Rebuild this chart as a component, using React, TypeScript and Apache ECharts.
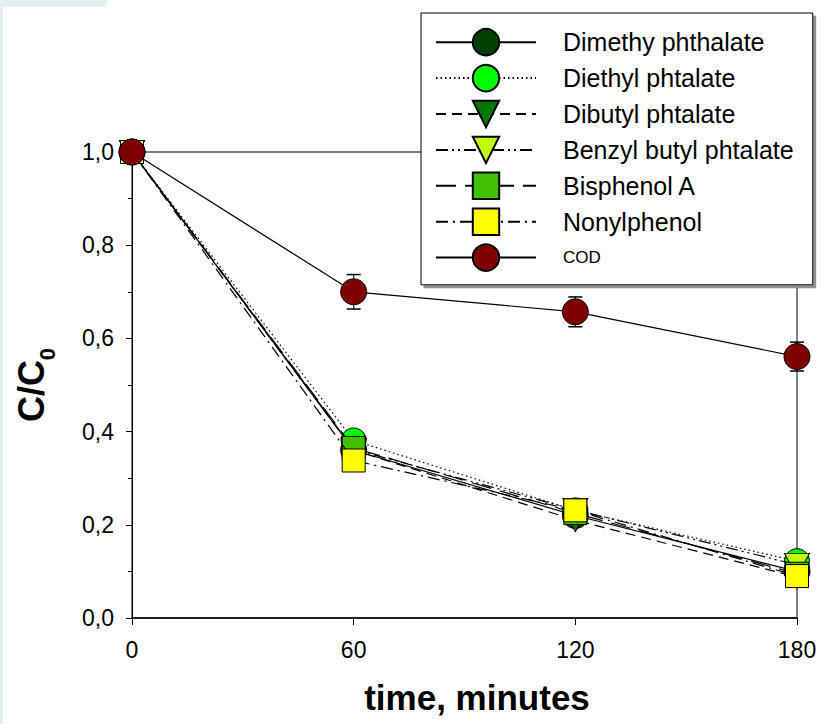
import React, { useEffect, useRef } from 'react';
import * as echarts from 'echarts';

const times = [0, 60, 120, 180];
const seriesNames = [
  'Dimethy phthalate',
  'Diethyl phtalate',
  'Dibutyl phtalate',
  'Benzyl butyl phtalate',
  'Bisphenol A',
  'Nonylphenol',
  'COD',
];
const dimethy = [1.0, 0.36, 0.22, 0.1];
const diethyl = [1.0, 0.381, 0.231, 0.122];
const dibutyl = [1.0, 0.36, 0.21, 0.088];
const benzyl = [1.0, 0.362, 0.232, 0.114];
const bisphenol = [1.0, 0.365, 0.225, 0.095];
const nonylphenol = [1.0, 0.338, 0.231, 0.09];
const cod = [1.0, 0.7, 0.657, 0.561];
const codErr = [0, 0.037, 0.032, 0.031];

const values = [dimethy, diethyl, dibutyl, benzyl, bisphenol, nonylphenol, cod];
const colors = ['#004000', '#00ff00', '#007800', '#c0ff00', '#40c000', '#ffff00', '#800000'];
const symbols = ['circle', 'circle', 'triangle', 'triangle', 'rect', 'rect', 'circle'];
const symbolRot = [0, 0, 180, 180, 0, 0, 0];
const symbolSizes: any[] = [26, 25, [25, 23], [25, 23], 23, 23, 26];
const dashes: any[] = ['solid', [1.5, 3], [10, 6], [12, 4, 2, 4, 2, 4], [20, 9], [12, 5, 2, 5], 'solid'];

const FONT = '"Liberation Sans", Arial, sans-serif';

export default function App() {
  const ref = useRef<HTMLDivElement>(null);
  useEffect(() => {
    if (!ref.current) return;
    const chart = echarts.init(ref.current, null, { renderer: 'svg' });
    const lineSeries = seriesNames.map((name, i) => ({
      type: 'line',
      name,
      data: times.map((t, j) => [t, values[i][j]]),
      symbol: symbols[i],
      symbolRotate: symbolRot[i],
      symbolSize: symbolSizes[i],
      showAllSymbol: true,
      lineStyle: { color: '#000', width: 1.2, type: dashes[i] },
      itemStyle: { color: colors[i], borderColor: '#000', borderWidth: 1 },
      z: 3 + i,
      clip: false,
      emphasis: { disabled: true },
    }));
    const errSeries = {
      type: 'custom',
      name: 'COD error',
      data: times.map((t, i) => [t, cod[i], codErr[i]]),
      z: 2,
      silent: true,
      clip: false,
      renderItem: (params: any, api: any) => {
        const x = api.value(0);
        const y = api.value(1);
        const e = api.value(2);
        if (!e) return null;
        const top = api.coord([x, y + e]);
        const bot = api.coord([x, y - e]);
        const hw = 7;
        return {
          type: 'group',
          children: [
            { type: 'line', shape: { x1: top[0], y1: top[1], x2: bot[0], y2: bot[1] }, style: { stroke: '#000', lineWidth: 1 } },
            { type: 'line', shape: { x1: top[0] - hw, y1: top[1], x2: top[0] + hw, y2: top[1] }, style: { stroke: '#000', lineWidth: 1.5 } },
            { type: 'line', shape: { x1: bot[0] - hw, y1: bot[1], x2: bot[0] + hw, y2: bot[1] }, style: { stroke: '#000', lineWidth: 1.5 } },
          ],
        };
      },
    };
    chart.setOption({
      animation: false,
      backgroundColor: '#fff',
      textStyle: { fontFamily: FONT },
      graphic: [
        { type: 'rect', shape: { x: 0, y: 0, width: 3, height: 724 }, style: { fill: '#e4f0ef' }, silent: true },
        { type: 'polygon', shape: { points: [[0, 0], [108, 0], [105, 7], [0, 7]] }, style: { fill: '#e4f0ef' }, silent: true },
      ],
      grid: {
        left: 132,
        right: 26,
        top: 152,
        bottom: 106,
        show: true,
        borderColor: '#000',
        borderWidth: 1,
        backgroundColor: 'transparent',
      },
      legend: {
        orient: 'vertical',
        left: 421,
        top: 13,
        padding: [15, 19, 13, 14],
        itemWidth: 100,
        itemHeight: 33,
        itemGap: 7.5,
        backgroundColor: '#fff',
        borderColor: '#000',
        borderWidth: 1,
        shadowColor: '#8c8c8c',
        shadowOffsetX: 3,
        shadowOffsetY: 3,
        shadowBlur: 0,
        selectedMode: false,
        z: 10,
        textStyle: { fontSize: 25, color: '#000', fontFamily: FONT, padding: [0, 0, 0, 22] },
        data: seriesNames.map((n) =>
          n === 'COD' ? { name: n, textStyle: { fontSize: 17, padding: [0, 0, 0, 22] } } : { name: n }
        ),
      },
      xAxis: {
        type: 'value',
        min: 0,
        max: 180,
        interval: 60,
        name: 'time, minutes',
        nameLocation: 'middle',
        nameGap: 62,
        nameTextStyle: { fontSize: 35, fontWeight: 'bold', color: '#000', fontFamily: FONT, padding: [0, 0, 0, 25] },
        axisLine: { lineStyle: { color: '#000', width: 1.5 } },
        axisTick: { show: true, inside: false, length: 7, lineStyle: { color: '#000' } },
        axisLabel: { fontSize: 23, color: '#000', margin: 20, fontFamily: FONT },
        splitLine: { show: false },
      },
      yAxis: {
        type: 'value',
        min: 0,
        max: 1,
        interval: 0.2,
        name: '{a|C/C}{b|0}',
        nameLocation: 'middle',
        nameGap: 74,
        nameRotate: 90,
        nameTextStyle: {
          rich: {
            a: { fontSize: 36, fontWeight: 'bold', color: '#000', fontFamily: FONT, verticalAlign: 'top', padding: [0, 0, 9, 0] },
            b: { fontSize: 22, fontWeight: 'bold', color: '#000', fontFamily: FONT, verticalAlign: 'bottom' },
          },
        },
        axisLine: { show: true, lineStyle: { color: '#000', width: 1 } },
        axisTick: { show: true, inside: false, length: 6, lineStyle: { color: '#000' } },
        minorTick: { show: true, splitNumber: 2, length: 4, lineStyle: { color: '#000' } },
        axisLabel: {
          fontSize: 23,
          color: '#000',
          margin: 18,
          fontFamily: FONT,
          formatter: (v: number) => v.toFixed(1).replace('.', ','),
        },
        splitLine: { show: false },
      },
      series: [errSeries, ...lineSeries],
    });
    return () => chart.dispose();
  }, []);
  return (
    <div
      ref={ref}
      style={{ position: 'fixed', left: 0, top: 0, width: 823, height: 724 }}
    />
  );
}
